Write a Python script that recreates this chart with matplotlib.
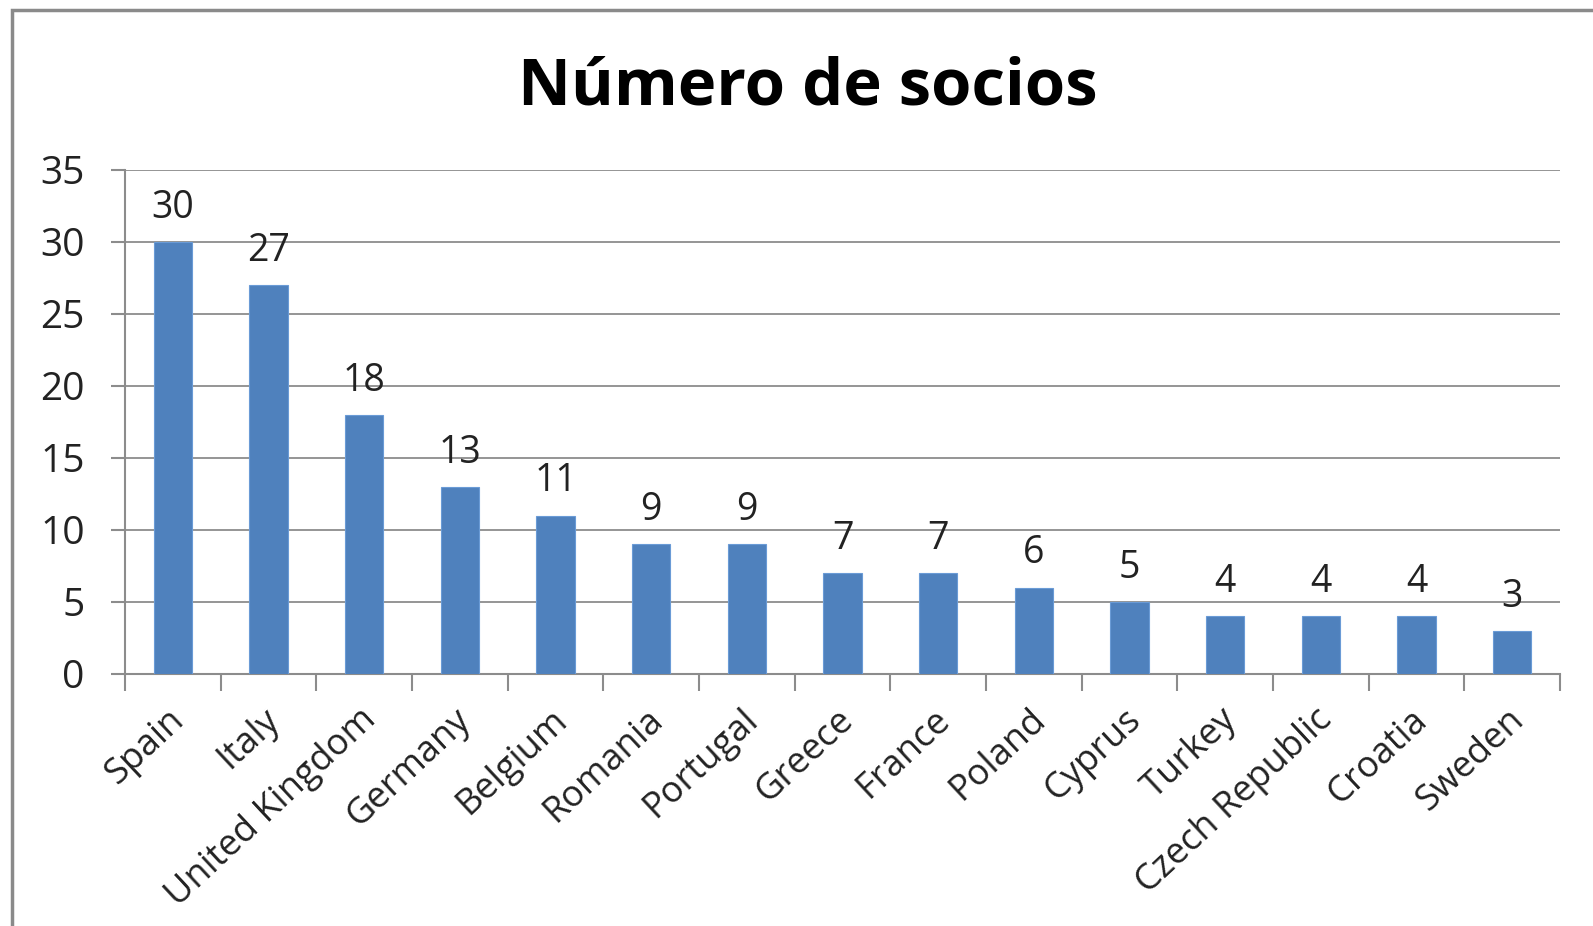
import matplotlib
matplotlib.use("Agg")
import matplotlib.pyplot as plt
from matplotlib.patches import Rectangle

countries = ["Spain", "Italy", "United Kingdom", "Germany", "Belgium", "Romania",
             "Portugal", "Greece", "France", "Poland", "Cyprus", "Turkey",
             "Czech Republic", "Croatia", "Sweden"]
socios = [30, 27, 18, 13, 11, 9, 9, 7, 7, 6, 5, 4, 4, 4, 3]
yticks = [0, 5, 10, 15, 20, 25, 30, 35]
title = "Número de socios"

plt.rcParams['font.family'] = ['Open Sans', 'DejaVu Sans']

fig = plt.figure(figsize=(15.93, 9.26), dpi=100)
fig.patch.set_facecolor("white")
# outer border (left & top visible)
fig.add_artist(Rectangle((12/1593, -0.05), 1.2, 1 - 10/926 + 0.05, transform=fig.transFigure,
                         fill=False, edgecolor="#8a8a8a", linewidth=2.5))

ax = fig.add_axes([125/1593, 1 - 674/926, (1560 - 125)/1593, (674 - 170)/926])
x = list(range(len(countries)))
bars = ax.bar(x, socios, width=0.4, color="#4F81BD", edgecolor="#6a9bd6", linewidth=0.8, zorder=3)
ax.set_xlim(-0.5, len(countries) - 0.5)
ax.set_ylim(0, 35)
ax.set_yticks(yticks)
ax.set_yticklabels([str(v) for v in yticks], fontsize=28, color="#222222")
ax.yaxis.grid(True, color="#8c8c8c", linewidth=1.3, zorder=0)
ax.set_axisbelow(True)
for s in ["top", "right"]:
    ax.spines[s].set_visible(False)
for s in ["left", "bottom"]:
    ax.spines[s].set_color("#8c8c8c")
    ax.spines[s].set_linewidth(1.5)
ax.tick_params(axis="y", length=10, width=1.5, color="#8c8c8c", pad=19, direction="out")
# x ticks between categories
ax.set_xticks([i - 0.5 for i in range(len(countries) + 1)], minor=False)
ax.set_xticklabels([])
ax.tick_params(axis="x", length=12, width=1.5, color="#8c8c8c")
for i, name in enumerate(countries):
    ax.annotate(name, xy=(i, 0), xycoords="data", xytext=(-4, -20), textcoords="offset points",
                rotation=43, ha="right", va="top", rotation_mode="anchor",
                fontsize=26, color="#222222")
for i, v in enumerate(socios):
    ax.annotate(str(v), xy=(i, v), xytext=(0, 11), textcoords="offset points",
                ha="center", va="bottom", fontsize=27, color="#222222")

fig.text(808/1593, 1 - 88/926, title, ha="center", va="center", fontsize=47,
         fontweight="bold", color="black")

fig.savefig("out.png", dpi=100)
